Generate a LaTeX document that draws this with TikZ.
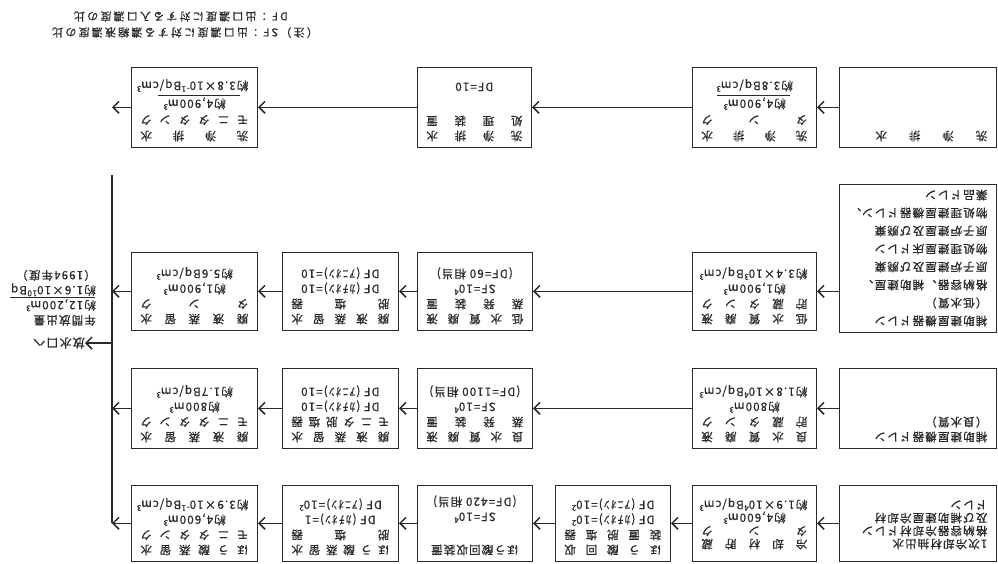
\documentclass[tikz,border=0pt]{standalone}
\usepackage{fontspec}
\setmainfont{Noto Sans CJK JP}[LetterSpace=10, FakeBold=0.6]
\newfontfamily\notefont{Noto Sans CJK JP}[LetterSpace=20, FakeBold=0.5]
\usetikzlibrary{arrows.meta}
\definecolor{ink}{HTML}{2A2A2A}
\newcommand{\spr}[1]{\makebox[\linewidth][s]{#1}}
\newcommand{\bt}[3]{\parbox[c][#2][t]{#1}{\centering #3}}
\newcommand{\bl}[3]{\parbox[c][#2][t]{#1}{\raggedright #3}}
\newcommand{\supx}[1]{\textsuperscript{#1}}
\begin{document}
\begin{tikzpicture}[x=1pt,y=-1pt,
 bx/.style={draw=ink, line width=1.3pt, anchor=north west, inner sep=0pt, text=ink, font=\fontsize{11.5}{15}\selectfont},
 fl/.style={draw=ink, line width=1.5pt, -{Straight Barb[length=6pt,width=12pt]}},
 ln/.style={draw=ink, line width=1.5pt},
 frac/.style={draw=ink, line width=0.9pt},
 txt/.style={text=ink, inner sep=0pt, font=\fontsize{11.5}{15}\selectfont}]
\fill[white] (0,0) rectangle (998,563);
\useasboundingbox (0,0) rectangle (998,563);
\begin{scope}[rotate around={180:(499,281.5)}, transform shape]
% ---------- row 4 ----------
\node[bx, minimum width=157pt, minimum height=76pt] (s4) at (1,1)
 {\bl{139pt}{64pt}{\fontsize{11.5}{13}\selectfont\vspace*{6pt}1次冷却材抽出水\\格納容器冷却材ドレン\\及び補助建屋冷却材\\ドレン}};
\node[bx, minimum width=124pt, minimum height=76pt] (t14) at (181,1)
 {\bt{106pt}{64pt}{\fontsize{11.5}{13}\selectfont\vspace*{6pt}\spr{冷\hfill 却\hfill 材\hfill 貯\hfill 蔵}\\\spr{タ\hfill ン\hfill ク}\\約4,600m\supx{3}\\約1.9×10\supx{4}Bq/cm\supx{3}}};
\node[bx, minimum width=115pt, minimum height=76pt] (r4) at (327,1)
 {\bt{97pt}{64pt}{\spr{ほ\hfill う\hfill 酸\hfill 回\hfill 収}\\\spr{装\hfill 置\hfill 脱\hfill 塩\hfill 器}\\DF (ｶﾁｵﾝ)=10\supx{2}\\DF (ｱﾆｵﾝ)=10\supx{2}}};
\node[bx, minimum width=115pt, minimum height=76pt] (e4) at (465,1)
 {\bt{97pt}{64pt}{ほう酸回収装置\\[18pt]SF=10\supx{4}\\(DF=420 相当)}};
\node[bx, minimum width=116pt, minimum height=76pt] (dm4) at (599,1)
 {\bt{98pt}{64pt}{\spr{ほ\hfill う\hfill 酸\hfill 蒸\hfill 留\hfill 水}\\\spr{脱\hfill 塩\hfill 器}\\DF (ｶﾁｵﾝ)=1\\DF (ｱﾆｵﾝ)=10\supx{2}}};
\node[bx, minimum width=126pt, minimum height=76pt] (t24) at (740,1)
 {\bt{108pt}{64pt}{\spr{ほ\hfill う\hfill 酸\hfill 蒸\hfill 留\hfill 水}\\\spr{モ\hfill ニ\hfill タ\hfill タ\hfill ン\hfill ク}\\約4,600m\supx{3}\\約3.9×10\supx{-1}Bq/cm\supx{3}}};
% ---------- row 3 ----------
\node[bx, minimum width=157pt, minimum height=80pt] (s3) at (1,114)
 {\bl{139pt}{68pt}{補助建屋機器ドレン\\（良水質）}};
\node[bx, minimum width=124pt, minimum height=80pt] (t13) at (181,114)
 {\bt{106pt}{68pt}{\spr{良\hfill 水\hfill 質\hfill 廃\hfill 液}\\\spr{貯\hfill 蔵\hfill タ\hfill ン\hfill ク}\\約800m\supx{3}\\約1.8×10\supx{4}Bq/cm\supx{3}}};
\node[bx, minimum width=115pt, minimum height=80pt] (e3) at (465,114)
 {\bt{97pt}{68pt}{\spr{良\hfill 水\hfill 質\hfill 廃\hfill 液}\\\spr{蒸\hfill 発\hfill 装\hfill 置}\\SF=10\supx{4}\\(DF=1100 相当)}};
\node[bx, minimum width=116pt, minimum height=80pt] (dm3) at (599,114)
 {\bt{98pt}{68pt}{\spr{廃\hfill 液\hfill 蒸\hfill 留\hfill 水}\\\spr{モ\hfill ニ\hfill タ\hfill 脱\hfill 塩\hfill 器}\\DF (ｶﾁｵﾝ)=10\\DF (ｱﾆｵﾝ)=10}};
\node[bx, minimum width=126pt, minimum height=80pt] (t23) at (740,114)
 {\bt{108pt}{68pt}{\spr{廃\hfill 液\hfill 蒸\hfill 留\hfill 水}\\\spr{モ\hfill ニ\hfill タ\hfill タ\hfill ン\hfill ク}\\約800m\supx{3}\\約1.7Bq/cm\supx{3}}};
% ---------- row 2 ----------
\node[bx, minimum width=157pt, minimum height=148pt] (s2) at (1,230)
 {\bl{139pt}{136pt}{\fontsize{11.5}{18}\selectfont 補助建屋機器ドレン\\（低水質）\\格納容器、補助建屋、\\原子炉建屋及び廃棄\\物処理建屋床ドレン\\原子炉建屋及び廃棄\\物処理建屋機器ドレン、\\薬品ドレン}};
\node[bx, minimum width=124pt, minimum height=78pt] (t12) at (181,232)
 {\bt{106pt}{66pt}{\spr{低\hfill 水\hfill 質\hfill 廃\hfill 液}\\\spr{貯\hfill 蔵\hfill タ\hfill ン\hfill ク}\\約1,900m\supx{3}\\約3.4×10\supx{3}Bq/cm\supx{3}}};
\node[bx, minimum width=115pt, minimum height=78pt] (e2) at (465,232)
 {\bt{97pt}{66pt}{\spr{低\hfill 水\hfill 質\hfill 廃\hfill 液}\\\spr{蒸\hfill 発\hfill 装\hfill 置}\\SF=10\supx{4}\\(DF=60 相当)}};
\node[bx, minimum width=116pt, minimum height=78pt] (dm2) at (599,232)
 {\bt{98pt}{66pt}{\spr{廃\hfill 液\hfill 蒸\hfill 留\hfill 水}\\\spr{脱\hfill 塩\hfill 器}\\DF (ｶﾁｵﾝ)=10\\DF (ｱﾆｵﾝ)=10}};
\node[bx, minimum width=126pt, minimum height=78pt] (t22) at (740,232)
 {\bt{108pt}{66pt}{\spr{廃\hfill 液\hfill 蒸\hfill 留\hfill 水}\\\spr{タ\hfill ン\hfill ク}\\約1,900m\supx{3}\\約5.6Bq/cm\supx{3}}};
% ---------- row 1 ----------
\node[bx, minimum width=157pt, minimum height=80pt] (s1) at (1,415)
 {\bl{139pt}{68pt}{\makebox[112pt][s]{洗\hfill 浄\hfill 排\hfill 水}}};
\node[bx, minimum width=124pt, minimum height=80pt] (t11) at (181,415)
 {\bt{106pt}{68pt}{\fontsize{11.5}{16}\selectfont\spr{洗\hfill 浄\hfill 排\hfill 水}\\\spr{タ\hfill ン\hfill ク}\\約4,900m\supx{3}\\[2pt]約3.8Bq/cm\supx{3}}};
\node[bx, minimum width=114pt, minimum height=80pt] (e1) at (466,415)
 {\bt{96pt}{68pt}{\spr{洗\hfill 浄\hfill 排\hfill 水}\\\spr{処\hfill 理\hfill 装\hfill 置}\\[19pt]DF=10}};
\node[bx, minimum width=126pt, minimum height=80pt] (t21) at (740,415)
 {\bt{108pt}{68pt}{\fontsize{11.5}{16}\selectfont\spr{洗\hfill 浄\hfill 排\hfill 水}\\\spr{モ\hfill ニ\hfill タ\hfill タ\hfill ン\hfill ク}\\約4,900m\supx{3}\\[2pt]約3.8×10\supx{-1}Bq/cm\supx{3}}};
\draw[frac] (208,468) -- (281,468);
\draw[frac] (758,468) -- (840,468);
% ---------- discharge ----------
\coordinate (bus) at (886,0);
\coordinate (busA) at (886,40);
\coordinate (busB) at (886,388);
\draw[ln] (busA) -- (busB);
\node[txt, anchor=west, font=\fontsize{12}{15}\selectfont] (out) at (913,220) {放水口へ};
\draw[fl] (out.west -| bus) -- (out.west);
\node[txt, anchor=north west, align=left] (ann) at (902,237)
 {年間放出量\\約12,200m\supx{3}\\約1.6×10\supx{10}Bq\\（1994年度）};
\draw[frac] (903,266) -- (988,266);
\node[txt, anchor=north west, align=left, font=\notefont\fontsize{11}{16}\selectfont] (note) at (680,525)
 {（注）SF：出口濃度に対する濃縮液濃度の比\\\hspace*{30pt}DF：出口濃度に対する入口濃度の比};
% ---------- connectors ----------
\draw[fl] (s4.east) -- (t14.west);
\draw[fl] (t14.east) -- (r4.west);
\draw[fl] (r4.east) -- (e4.west);
\draw[fl] (e4.east) -- (dm4.west);
\draw[fl] (dm4.east) -- (t24.west);
\draw[fl] (t24.east) -- (t24.east -| bus);
\draw[fl] (s3.east) -- (t13.west);
\draw[fl] (t13.east) -- (e3.west);
\draw[fl] (e3.east) -- (dm3.west);
\draw[fl] (dm3.east) -- (t23.west);
\draw[fl] (t23.east) -- (t23.east -| bus);
\draw[fl] (s2.east |- t12.west) -- (t12.west);
\draw[fl] (t12.east) -- (e2.west);
\draw[fl] (e2.east) -- (dm2.west);
\draw[fl] (dm2.east) -- (t22.west);
\draw[fl] (t22.east) -- (t22.east -| bus);
\draw[fl] (s1.east) -- (t11.west);
\draw[fl] (t11.east) -- (e1.west);
\draw[fl] (e1.east) -- (t21.west);
\draw[fl] (t21.east) -- (t21.east -| bus);
\end{scope}
\end{tikzpicture}
\end{document}
